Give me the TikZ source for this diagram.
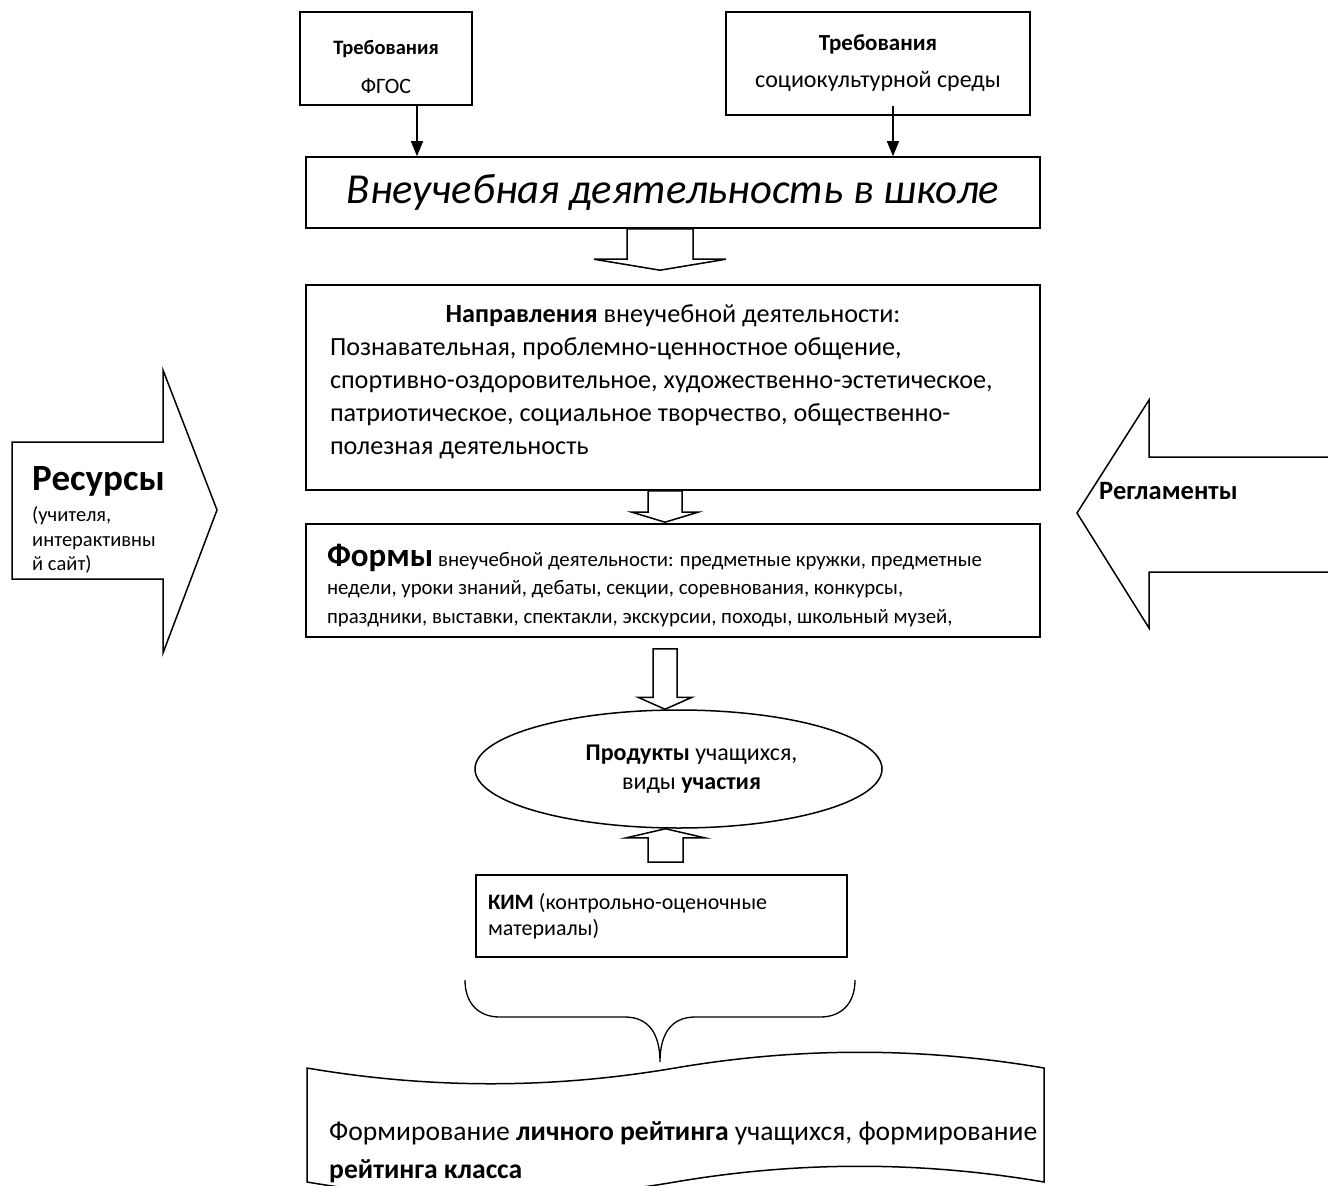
\documentclass[tikz,border=0pt]{standalone}
\usepackage{fontspec}
\setmainfont{Carlito}
\usetikzlibrary{shapes.geometric,arrows.meta,calc}

\tikzset{
  box/.style={draw, rectangle, line width=1.6pt, inner sep=0pt},
  hollow/.style={draw, line width=1.5pt, fill=white, line join=miter},
  thinarrow/.style={line width=1.5pt, -{Triangle[length=15pt,width=12pt]}},
}

% normal word spaces inside aligned nodes
\newcommand{\nsp}{\spaceskip=0pt\xspaceskip=0pt\relax}

% hollow block arrows: x, start point, tip point, shaft half width, head half width, head length
\newcommand{\blockdown}[6]{%
  \path[hollow] let \p1=(#2), \p2=(#3) in
    (#1pt-#4pt,\y1) -- (#1pt-#4pt,\y2+#6pt) -- (#1pt-#5pt,\y2+#6pt) -- (#1pt,\y2)
    -- (#1pt+#5pt,\y2+#6pt) -- (#1pt+#4pt,\y2+#6pt) -- (#1pt+#4pt,\y1) -- cycle;}
\newcommand{\blockup}[6]{%
  \path[hollow] let \p1=(#2), \p2=(#3) in
    (#1pt-#4pt,\y1) -- (#1pt-#4pt,\y2-#6pt) -- (#1pt-#5pt,\y2-#6pt) -- (#1pt,\y2)
    -- (#1pt+#5pt,\y2-#6pt) -- (#1pt+#4pt,\y2-#6pt) -- (#1pt+#4pt,\y1) -- cycle;}

\begin{document}
\begin{tikzpicture}[x=1pt,y=-1pt]
  \useasboundingbox (0,0) rectangle (1328,1186);
  \clip (0,0) rectangle (1328,1186);

  % Требования
  \node[box, minimum width=172pt, minimum height=93pt, align=center,
        font=\fontsize{22}{39}\selectfont] (fgos) at (386,58.5)
        {\rule{0pt}{31pt}{\fontsize{20.5}{39}\selectfont\bfseries Требования}\\ ФГОС};
  \node[box, minimum width=304pt, minimum height=103pt, align=center,
        font=\fontsize{23}{37}\selectfont] (soc) at (878,63.5)
        {\textbf{Требования}\\ {\fontsize{24}{37}\selectfont\nsp социокультурной среды}};

  % Внеучебная деятельность
  \node[box, minimum width=734pt, minimum height=71pt,
        font=\fontsize{42.7}{50}\selectfont\itshape] (main) at (673,192.5)
        {Внеучебная деятельность в школе};

  \draw[thinarrow] ([xshift=31pt]fgos.south) -- ([xshift=31pt]fgos.south |- main.north);
  \draw[thinarrow] ([xshift=15pt,yshift=10pt]soc.south) -- ([xshift=15pt]soc.south |- main.north);

  % Направления
  \node[box, minimum width=734pt, minimum height=205pt, inner xsep=24pt,
        text width=686pt, align=left, font=\fontsize{26.2}{33}\selectfont] (napr) at (673,387.5)
        {\nsp\hfill\textbf{Направления} внеучебной деятельности:\hfill\null\\
         Познавательная, проблемно-ценностное общение,\\
         спортивно-оздоровительное, художественно-эстетическое,\\
         патриотическое, социальное творчество, общественно-\\
         полезная деятельность\rule[-16pt]{0pt}{16pt}};

  % Формы
  \node[box, minimum width=734pt, minimum height=113pt, inner xsep=21pt,
        text width=692pt, align=left, font=\fontsize{20.8}{28.5}\selectfont] (formy) at (673,580.5)
        {\nsp\rule{0pt}{32pt}{\fontsize{33}{28.5}\selectfont\bfseries Формы} внеучебной деятельности: предметные кружки, предметные\\
         недели, уроки знаний, дебаты, секции, соревнования, конкурсы,\\
         праздники, выставки, спектакли, экскурсии, походы, школьный музей,};

  % Продукты
  \node[ellipse, draw, line width=1.5pt, minimum width=407pt, minimum height=118pt,
        align=center, font=\fontsize{24}{29}\selectfont] (prod) at (678.5,769)
        {\hspace*{26pt}\nsp\textbf{Продукты} учащихся,\\ \hspace*{26pt}\nsp виды \textbf{участия}};

  % КИМ
  \node[box, minimum width=371pt, minimum height=82pt, inner xsep=12pt,
        text width=347pt, align=left, font=\fontsize{22}{26}\selectfont] (kim) at (661.5,916)
        {\nsp\textbf{КИМ} (контрольно-оценочные\\ материалы)};

  % Стрелки
  \blockdown{660}{main.south}{[yshift=14pt]napr.north}{33}{66}{11}
  \blockdown{665}{napr.south}{[yshift=1pt]formy.north}{17}{33}{10}
  \blockdown{665}{[yshift=-11pt]formy.south}{prod.north}{12}{27}{12}
  \blockup{665.5}{[yshift=12pt]kim.north}{prod.south}{17.5}{39}{9}

  % Ресурсы
  \draw[hollow] (12,442) -- (163,442) -- (163,370) -- (217,510) -- (163,653) -- (163,579) -- (12,579) -- cycle;
  \node[anchor=base west, text width=145pt, align=left, inner sep=0pt,
        font=\fontsize{20.5}{24.5}\selectfont] (res) at (32,490)
        {\nsp{\fontsize{37}{37}\selectfont\bfseries Ресурсы}\\[7pt] (учителя,\\ интерактивны\\ й сайт)};

  % Регламенты
  \draw[hollow] (1340,457) -- (1149,457) -- (1149,400) -- (1077,513) -- (1149,628) -- (1149,572) -- (1340,572);
  \node[anchor=base west, inner sep=0pt, font=\fontsize{26.5}{30}\selectfont\bfseries] (regl) at (1099,499) {Регламенты};

  % Скобка
  \coordinate (tip) at (660,1062);
  \draw[line width=1.3pt] (465,980) .. controls (465,1003) and (478,1017) .. (500,1017) -- (625,1017)
    .. controls (648,1017) and (660,1033) .. (tip)
    .. controls (660,1033) and (672,1017) .. (695,1017) -- (820,1017)
    .. controls (842,1017) and (855,1003) .. (855,980);

  % Рейтинг
  \draw[hollow] (307,1068) .. controls (430,1089) and (552,1089) .. (675,1068)
    .. controls (798,1047) and (921,1047) .. (1044,1068) -- (1044,1182)
    .. controls (921,1161) and (798,1161) .. (675,1182)
    .. controls (552,1203) and (430,1203) .. (307,1182) -- cycle;
  \node[anchor=base west, text width=735pt, align=left, inner sep=0pt,
        font=\fontsize{27.6}{38}\selectfont] (rating) at (329,1140)
        {\nsp Формирование \textbf{личного рейтинга} учащихся, формирование\\ \textbf{рейтинга класса}};
\end{tikzpicture}
\end{document}
